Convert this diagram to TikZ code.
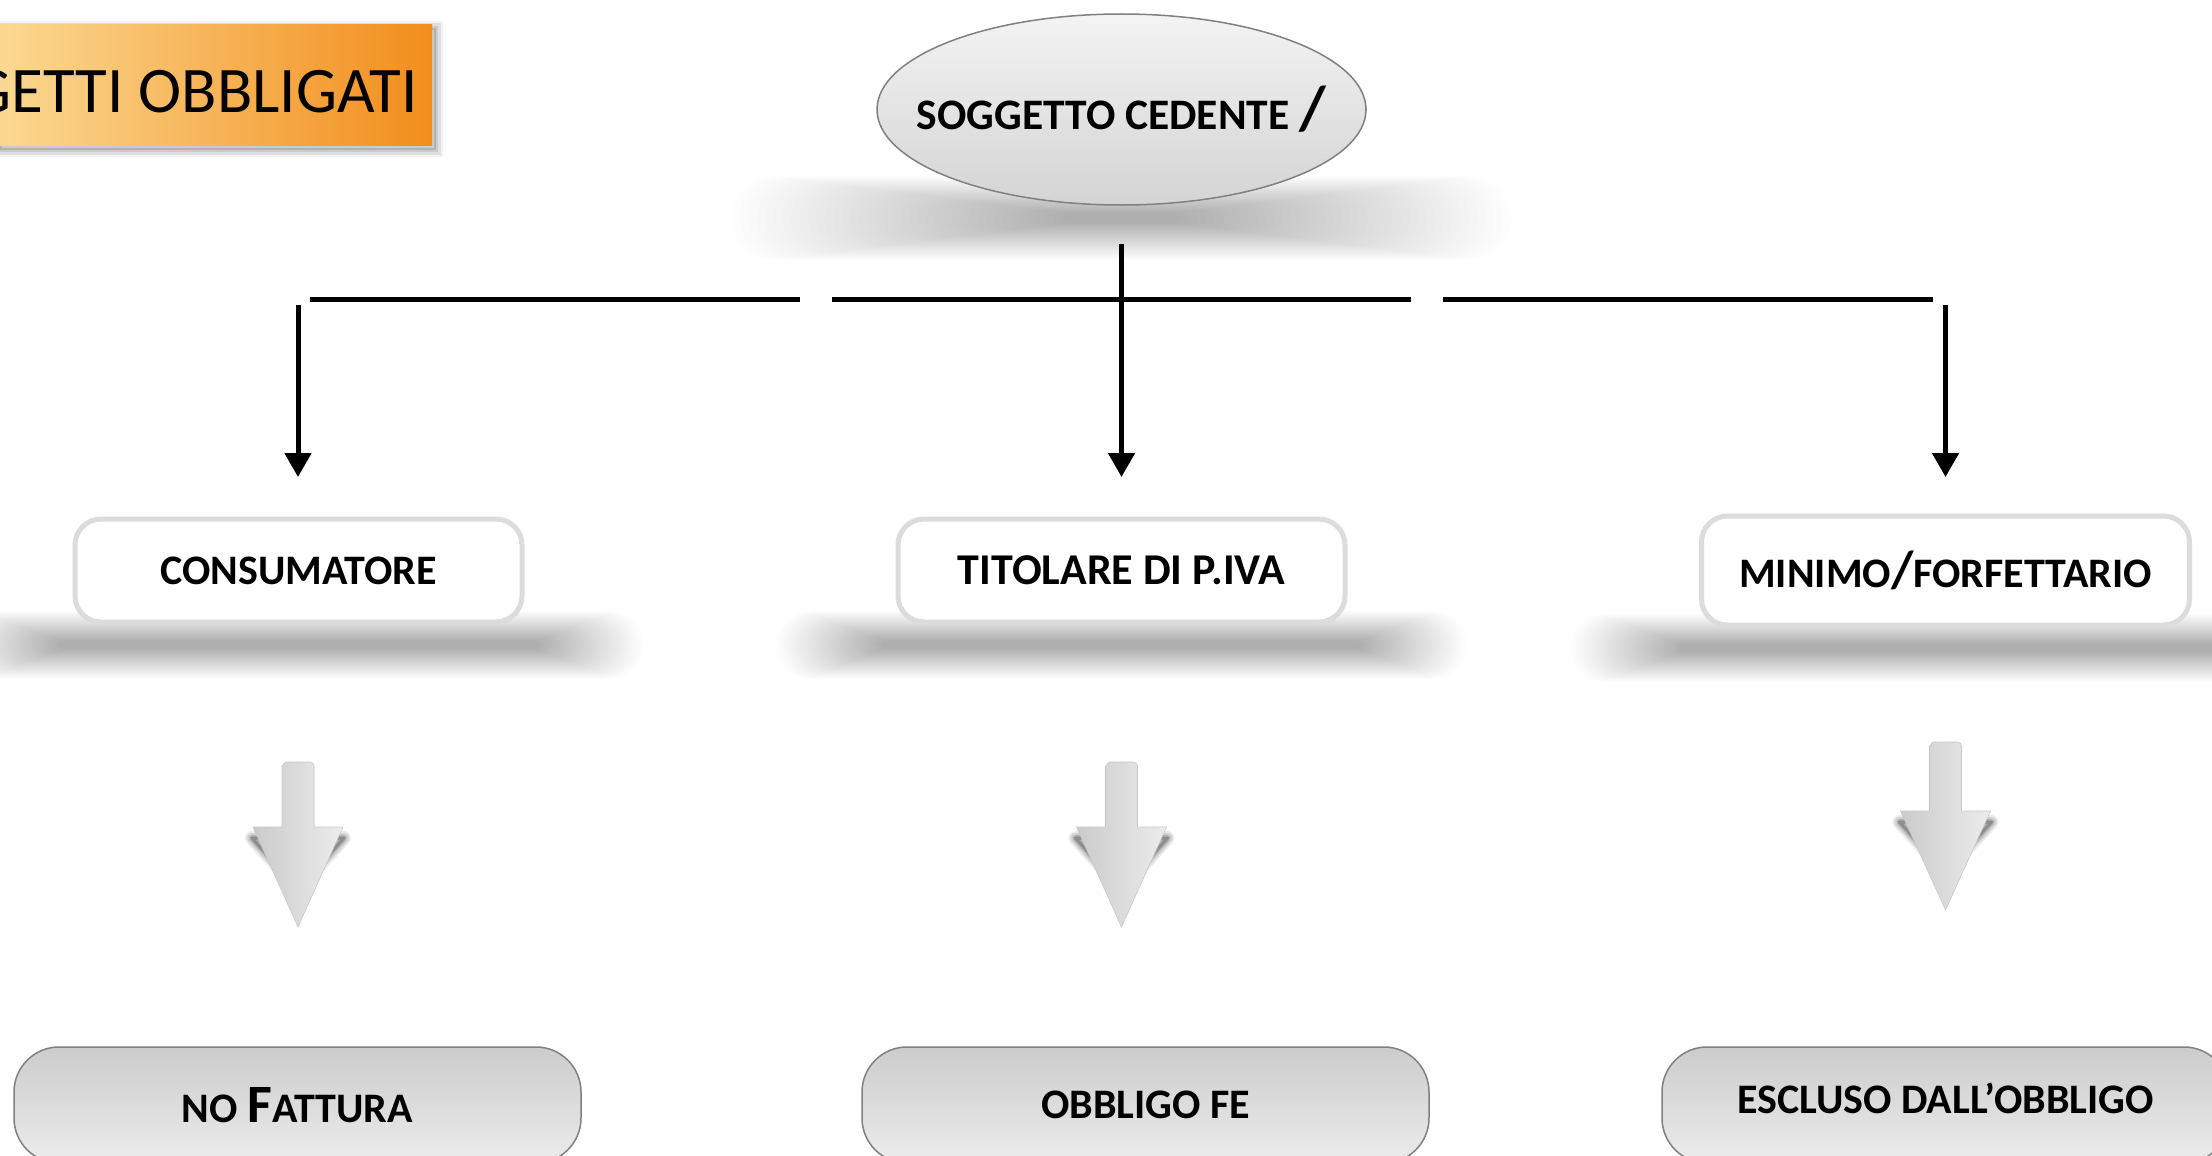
\documentclass[tikz,border=0pt]{standalone}
\usepackage{fontspec}
\setmainfont{Carlito}
\usetikzlibrary{shapes.geometric,arrows.meta}
\definecolor{titleL}{RGB}{251,217,146}
\definecolor{titleR}{RGB}{242,141,28}
\definecolor{boxedge}{RGB}{220,220,220}
\definecolor{edgegray}{RGB}{128,128,128}
\definecolor{botTop}{RGB}{204,204,204}
\definecolor{botBot}{RGB}{236,236,236}
\definecolor{ellTop}{RGB}{243,243,243}
\definecolor{ellBot}{RGB}{212,212,212}
\definecolor{arrL}{RGB}{203,203,203}
\definecolor{arrR}{RGB}{236,236,236}
% soft shadow band: cx, cy, outer half width, inner half width, outer half height, inner half height, opacity per layer
\newcommand{\mysoftband}[7]{%
  \foreach \i in {0,...,39}{%
    \pgfmathsetmacro{\myw}{#3-(#3-#4)*\i/39}%
    \pgfmathsetmacro{\myh}{#5-(#5-#6)*\i/39}%
    \fill[black,opacity=#7,rounded corners=\myh pt] ({#1-\myw},{#2-\myh}) rectangle ({#1+\myw},{#2+\myh});
  }}
\newcommand{\myblockarrow}[4]{% cx, shaft top, head top, tip
  \foreach \lw/\op in {14/0.08,10/0.11,6/0.15,3/0.2}{%
    \draw[black,opacity=\op,line width=\lw pt,line join=round] ({#1-46},{#3+11}) -- ({#1+46},{#3+11}) -- ({#1},{#4-38}) -- cycle;}
  \shade[left color=arrL,right color=arrR,draw=black!22,line width=0.6pt]
    ({#1-16},{#3}) -- ({#1-16},{#2+4}) to[out=-90,in=180] ({#1-12},{#2}) -- ({#1+12},{#2}) to[out=0,in=90] ({#1+16},{#2+4}) -- ({#1+16},{#3})
    -- ({#1+45},{#3}) -- ({#1},{#4}) -- ({#1-45},{#3}) -- cycle;}
\begin{document}
\begin{tikzpicture}[x=1pt,y=-1pt,
  midbox/.style={draw=boxedge,line width=5pt,fill=white,rounded corners=26pt,
    minimum width=447pt,minimum height=103pt,inner sep=0pt,
    font=\fontsize{42}{50}\selectfont\bfseries},
  botbox/.style={draw=edgegray,line width=1.5pt,top color=botTop,bottom color=botBot,
    rounded corners=45pt,minimum width=567pt,minimum height=116pt,inner sep=0pt,
    font=\fontsize{42}{50}\selectfont\bfseries},
  conn/.style={line width=5pt,black},
  connarrow/.style={conn,-{Triangle[width=26pt,length=24pt]}}]
\useasboundingbox (0,0) rectangle (2212,1156);
\clip (0,0) rectangle (2212,1156);
\fill[white] (0,0) rectangle (2212,1156);

% title box
\foreach \lw/\op in {16/0.05,11/0.07,6/0.09,2/0.12}{%
  \draw[black,opacity=\op,line width=\lw pt] (1,29) rectangle (435,149);}
\node[shade,left color=titleL,right color=titleR,minimum width=434pt,minimum height=120pt,inner sep=0pt] (title) at (215,85) {};
\node[anchor=base east,inner sep=0pt,font=\fontsize{65}{70}\selectfont] (titletext) at (418,113) {SOGGETTI OBBLIGATI};

% top ellipse
\mysoftband{1121.5}{218}{390}{60}{42}{5}{0.0075}
\node[ellipse,draw=edgegray,line width=1.5pt,top color=ellTop,bottom color=ellBot,
  minimum width=489pt,minimum height=191pt,inner sep=0pt,
  font=\fontsize{43.5}{50}\selectfont\bfseries] (cedente) at (1121.5,109.5)
  {\makebox[0pt][c]{SOGGETTO CEDENTE {\fontsize{62}{64}\selectfont/}}};

% connectors
\coordinate (trunk) at (1121.5,244);
\coordinate (barA1) at (310,299);
\coordinate (barA2) at (800,299);
\coordinate (barB1) at (832,299);
\coordinate (barB2) at (1411,299);
\coordinate (barC1) at (1443,299);
\coordinate (barC2) at (1933,299);
\coordinate (dropL) at (298,305);
\coordinate (dropR) at (1945.5,305);
\draw[conn] (barA1) -- (barA2);
\draw[conn] (barB1) -- (barB2);
\draw[conn] (barC1) -- (barC2);

% middle boxes
\mysoftband{298.5}{645}{345}{240}{34}{4}{0.0075}
\mysoftband{1121.5}{645}{345}{240}{34}{4}{0.0075}
\mysoftband{1945.5}{648}{375}{265}{34}{4}{0.0075}
\node[midbox] (consumatore) at (298.5,570.5) {CONSUMATORE};
\node[midbox,font=\fontsize{44}{50}\selectfont\bfseries] (titolare) at (1121.5,570.5) {TITOLARE DI P.IVA};
\node[midbox,minimum width=488pt,minimum height=109pt] (minimo) at (1945.5,570.5)
  {MINIMO{\fontsize{52}{56}\selectfont/}FORFETTARIO};

\draw[connarrow,shorten >=39.5pt] (trunk) -- (titolare.north);
\draw[connarrow,shorten >=39.5pt] (dropL) -- (dropL |- consumatore.north);
\draw[connarrow,shorten >=36.5pt] (dropR) -- (dropR |- minimo.north);

% block arrows
\myblockarrow{298}{762}{827}{927}
\myblockarrow{1121.5}{762}{827}{927}
\myblockarrow{1945.5}{742}{811}{910}

% bottom boxes
\node[botbox] (nofattura) at (297.5,1105)
  {\fontsize{42}{50}\selectfont NO {\fontsize{54}{56}\selectfont F}ATTURA};
\node[botbox] (obbligo) at (1145.5,1105) {OBBLIGO FE};
\node[botbox] (escluso) at (1945.5,1105) {\raisebox{13pt}{ESCLUSO DALL’OBBLIGO}};
\end{tikzpicture}
\end{document}
